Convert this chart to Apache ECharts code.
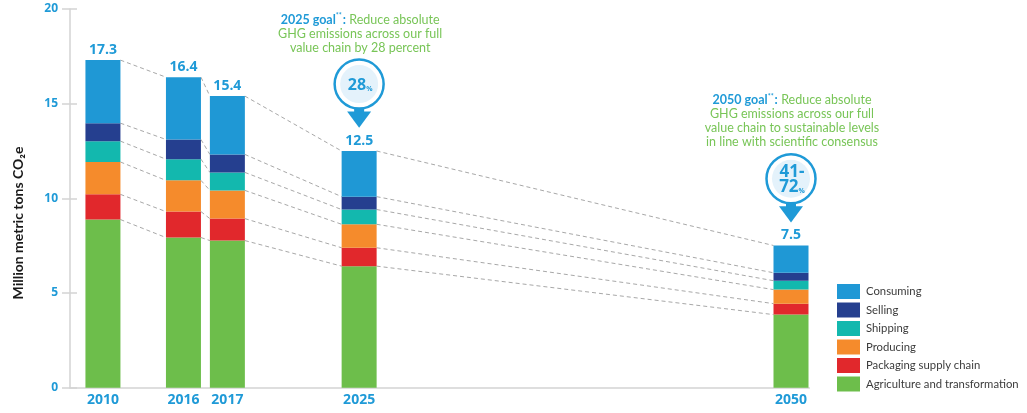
<!DOCTYPE html>
<html>
<head>
<meta charset="utf-8">
<script src="https://cdn.jsdelivr.net/npm/echarts@6/dist/echarts.min.js"></script>
<style>
html,body{margin:0;padding:0;background:#fff;}
#chart{width:1027px;height:413px;}
</style>
</head>
<body>
<div id="chart"></div>
<script>
// ---- data ----
const years = ['2010', '2016', '2017', '2025', '2050'];
const agriculture = [8.88, 7.93, 7.77, 6.42, 3.86];
const packaging   = [1.33, 1.37, 1.16, 0.97, 0.58];
const producing   = [1.71, 1.65, 1.49, 1.24, 0.74];
const shipping    = [1.10, 1.12, 0.95, 0.78, 0.47];
const selling     = [0.95, 1.04, 0.95, 0.68, 0.42];
const consuming   = [3.33, 3.29, 3.08, 2.41, 1.44];
const totals      = ['17.3', '16.4', '15.4', '12.5', '7.5'];
const seriesNames = ['Agriculture and transformation', 'Packaging supply chain', 'Producing', 'Shipping', 'Selling', 'Consuming'];
const yTickValues = [0, 5, 10, 15, 20];
const goal2025 = { year: '2025', text: ['Reduce absolute', 'GHG emissions across our full', 'value chain by 28 percent'], pct: ['28'] };
const goal2050 = { year: '2050', text: ['Reduce absolute', 'GHG emissions across our full', 'value chain to sustainable levels', 'in line with scientific consensus'], pct: ['41-', '72'] };

// ---- layout (positions of the year columns on a fine slot grid) ----
const SLOT = [9, 31, 43, 79, 197];
const SLOT_COUNT = 203;
const BAR_W = 35;
const HALF = BAR_W / 2;

const colors = ['#6dbe4b', '#e1282c', '#f58b2c', '#13b8ae', '#253f8f', '#1f98d5'];
const BLUE = '#1f9ad7';
const GREEN = '#78c557';
const AXIS = '#d3d3d3';
const FONT = 'Lato';

const values = [agriculture, packaging, producing, shipping, selling, consuming];

const catLabels = [];
for (let i = 0; i < SLOT_COUNT; i++) {
  const k = SLOT.indexOf(i);
  catLabels.push(k >= 0 ? years[k] : '');
}

function fullData(arr) {
  const out = [];
  for (let i = 0; i < SLOT_COUNT; i++) {
    const k = SLOT.indexOf(i);
    out.push(k >= 0 ? arr[k] : '-');
  }
  return out;
}

// cumulative tops per year
const cum = years.map((_, j) => {
  let s = 0;
  return values.map(v => (s += v[j]));
});
const connectors = [];
for (let j = 0; j < years.length - 1; j++) {
  for (let k = 0; k < values.length; k++) {
    connectors.push([SLOT[j], SLOT[j + 1], cum[j][k], cum[j + 1][k]]);
  }
}

const series = values.map((arr, k) => {
  const s = {
    name: seriesNames[k],
    type: 'bar',
    stack: 'total',
    barWidth: BAR_W,
    data: fullData(arr),
    itemStyle: { color: colors[k] },
    emphasis: { disabled: true },
    z: 3
  };
  if (k === values.length - 1) {
    s.label = {
      show: true,
      position: 'top',
      distance: 3,
      color: BLUE,
      fontFamily: 'Open Sans',
      fontWeight: 'bold',
      fontSize: 14,
      formatter: p => totals[SLOT.indexOf(p.dataIndex)]
    };
  }
  return s;
});

series.push({
  type: 'custom',
  silent: true,
  z: 2,
  data: connectors,
  encode: { x: [0, 1], y: [2, 3] },
  renderItem: function (params, api) {
    const d = connectors[params.dataIndex];
    const p1 = api.coord([d[0], d[2]]);
    const p2 = api.coord([d[1], d[3]]);
    return {
      type: 'line',
      shape: { x1: p1[0] + HALF, y1: p1[1], x2: p2[0] - HALF, y2: p2[1] },
      style: { stroke: '#a8a8a8', lineWidth: 1, lineDash: [4, 3] }
    };
  }
});

const chart = echarts.init(document.getElementById('chart'), null, { renderer: 'canvas' });
const option = {
  animation: false,
  backgroundColor: '#fff',
  grid: { left: 70, right: 217.7, top: 9, bottom: 25.3, containLabel: false },
  xAxis: {
    type: 'category',
    data: catLabels,
    boundaryGap: false,
    axisLine: { lineStyle: { color: AXIS, width: 1.5 } },
    axisTick: { show: false },
    axisLabel: { interval: 0, color: BLUE, fontFamily: 'Open Sans', fontWeight: 'bold', fontSize: 14, margin: 5 },
    splitLine: { show: false }
  },
  yAxis: [{
    type: 'value',
    min: yTickValues[0],
    max: yTickValues[yTickValues.length - 1],
    interval: 5,
    axisLine: { show: true, lineStyle: { color: AXIS, width: 1.5 } },
    axisTick: { show: true, length: 8, lineStyle: { color: AXIS, width: 1.5 } },
    axisLabel: { color: BLUE, fontFamily: 'Open Sans', fontWeight: 'bold', fontSize: 12, margin: 12 },
    splitLine: { show: false }
  }, {
    type: 'value',
    position: 'left',
    min: yTickValues[0],
    max: yTickValues[yTickValues.length - 1],
    interval: 5,
    axisLine: { show: false },
    axisTick: { show: true, inside: true, length: 7, lineStyle: { color: AXIS, width: 1.5 } },
    axisLabel: { show: false },
    splitLine: { show: false }
  }],
  legend: {
    orient: 'vertical',
    left: 832,
    top: 279,
    itemWidth: 23,
    itemHeight: 15,
    itemGap: 3.5,
    icon: 'rect',
    selectedMode: false,
    data: seriesNames.slice().reverse(),
    textStyle: { color: '#3c3c3c', fontFamily: FONT, fontSize: 11.3, padding: [0, 0, 0, 1] }
  },
  series: series
};
chart.setOption(option);

function badgeGraphic(goal, idx, total) {
  const top = chart.convertToPixel({ xAxisIndex: 0, yAxisIndex: 0 }, [SLOT[idx], total]);
  const cx = top[0];
  const tip = top[1] - 23.3;
  const cy = tip - 43.6;
  const r = 24.5;
  const children = [];
  // arrow
  children.push({ type: 'rect', shape: { x: cx - 5, y: cy + r - 3, width: 10, height: 9 }, style: { fill: BLUE } });
  children.push({ type: 'polygon', shape: { points: [[cx - 12, cy + r + 3], [cx + 12, cy + r + 3], [cx, tip]] }, style: { fill: BLUE } });
  children.push({ type: 'circle', shape: { cx: cx, cy: cy, r: r }, style: { fill: '#fff', stroke: BLUE, lineWidth: 2.5 } });
  children.push({ type: 'circle', shape: { cx: cx, cy: cy, r: r - 5.5 }, style: { fill: '#e4f2fb' } });
  let txt;
  if (goal.pct.length === 1) {
    txt = '{n|' + goal.pct[0] + '}{p|%}';
  } else {
    txt = '{n|' + goal.pct[0] + '}\n{n|' + goal.pct[1] + '}{p|%}';
  }
  children.push({
    type: 'text',
    style: {
      text: txt, x: cx + 1, y: cy + 1, align: 'center', verticalAlign: 'middle',
      rich: {
        n: { fontFamily: 'Open Sans', fontWeight: 'bold', fontSize: goal.pct.length === 1 ? 16 : 17, fill: BLUE, lineHeight: 15 },
        p: { fontFamily: 'Open Sans', fontWeight: 'bold', fontSize: 7, fill: BLUE, lineHeight: 15, verticalAlign: 'bottom' }
      }
    }
  });
  // annotation text
  let t = '{b|' + goal.year + ' goal}{s|**}{b|:} {g|' + goal.text[0] + '}';
  for (let i = 1; i < goal.text.length; i++) t += '\n{g|' + goal.text[i] + '}';
  children.push({
    type: 'text',
    style: {
      text: t, x: cx + 1, y: cy - r - 5, align: 'center', verticalAlign: 'bottom',
      rich: {
        b: { fontFamily: FONT, fontWeight: 'bold', fontSize: 12.5, fill: BLUE, lineHeight: 14 },
        s: { fontFamily: FONT, fontWeight: 'bold', fontSize: 7, fill: BLUE, lineHeight: 14, verticalAlign: 'top', padding: [0, 1, 6, 0] },
        g: { fontFamily: FONT, fontSize: 12.5, fill: GREEN, lineHeight: 14 }
      }
    }
  });
  return { type: 'group', children: children };
}

chart.setOption({
  graphic: [
    badgeGraphic(goal2025, 3, parseFloat(totals[3])),
    badgeGraphic(goal2050, 4, parseFloat(totals[4])),
    {
      type: 'text',
      rotation: Math.PI / 2,
      x: 18, y: 223,
      style: {
        text: 'Million metric tons CO₂e', align: 'center', verticalAlign: 'middle',
        fontFamily: FONT, fontWeight: 'bold', fontSize: 14, fill: '#1a1a1a'
      }
    }
  ]
});
</script>
</body>
</html>
